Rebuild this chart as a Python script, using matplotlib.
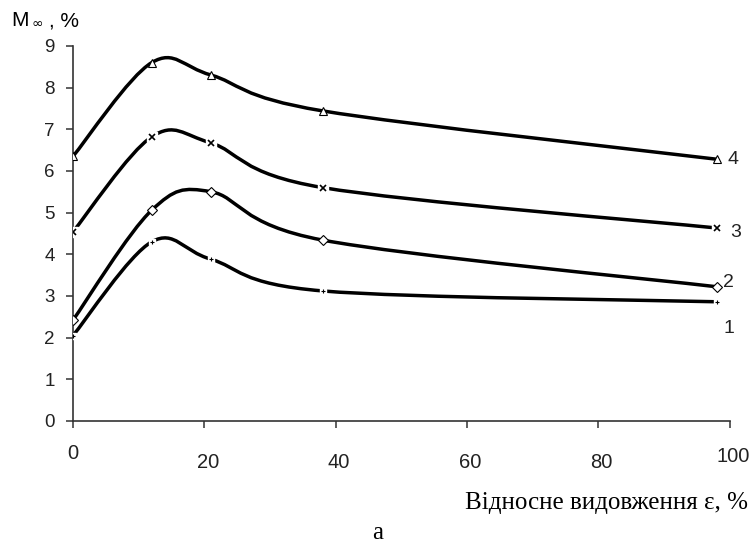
import matplotlib
matplotlib.use("Agg")
import matplotlib.pyplot as plt
import numpy as np
from matplotlib.path import Path
from matplotlib.patches import PathPatch
from matplotlib import font_manager

# data
strain = [0, 12, 21, 38, 98]
curve1 = [2.05, 4.30, 3.88, 3.12, 2.86]
curve2 = [2.42, 5.06, 5.50, 4.34, 3.22]
curve3 = [4.54, 6.82, 6.67, 5.60, 4.63]
curve4 = [6.35, 8.60, 8.30, 7.44, 6.28]
curve_names = ["1", "2", "3", "4"]
x_ticks = [0, 20, 40, 60, 80, 100]
y_ticks = [0, 1, 2, 3, 4, 5, 6, 7, 8, 9]

names = {f.name for f in font_manager.fontManager.ttflist}
narrow = "Liberation Sans Narrow" if "Liberation Sans Narrow" in names else "Liberation Sans"


def smooth_path(xs, ys):
    # excel-like smoothed line: bezier segments through the points
    p = np.column_stack([xs, ys]).astype(float)
    n = len(p)
    verts = [p[0]]
    codes = [Path.MOVETO]
    for i in range(n - 1):
        p0 = p[i - 1] if i > 0 else p[i]
        p3 = p[i + 2] if i + 2 < n else p[i + 1]
        c1 = p[i] + (p[i + 1] - p0) / 6
        c2 = p[i + 1] - (p3 - p[i]) / 6
        verts += [c1, c2, p[i + 1]]
        codes += [Path.CURVE4] * 3
    return Path(verts, codes)


fig = plt.figure(figsize=(7.55, 5.46), dpi=100)
ax = fig.add_axes([0.0967, 0.229, 0.87, 0.687])
ax.set_xlim(0, 100)
ax.set_ylim(0, 9)

series = [curve1, curve2, curve3, curve4]
for ys in series:
    ax.add_patch(PathPatch(smooth_path(strain, ys), fill=False, lw=2.5,
                           edgecolor="black", zorder=3, capstyle="round"))

# markers (white box behind to break the line like in the original)
ax.plot(strain, curve1, ls="none", marker="s", ms=5, mfc="white", mec="white", zorder=4)
ax.plot(strain, curve1, ls="none", marker="+", ms=3, mew=0.8, color="black", zorder=5)
ax.plot(strain, curve2, ls="none", marker="D", ms=5, mfc="white", mec="black", mew=0.8, zorder=5)
ax.plot(strain, curve3, ls="none", marker="s", ms=7, mfc="white", mec="white", zorder=4)
ax.plot(strain, curve3, ls="none", marker="x", ms=4, mew=1.2, color="black", zorder=5)
ax.plot(strain, curve4, ls="none", marker="^", ms=6, mfc="white", mec="black", mew=0.8, zorder=5)

# curve numbers
label_pos = [(99.0, 2.23), (99.0, 3.33), (100.0, 4.53), (99.7, 6.28)]
for name, (lx, ly) in zip(curve_names, label_pos):
    ax.text(lx, ly, name, fontsize=14, family="Liberation Sans",
            ha="left", va="center", color="#222222", clip_on=False)

for s in ["top", "right"]:
    ax.spines[s].set_visible(False)
for s in ["left", "bottom"]:
    ax.spines[s].set_color("#333333")
    ax.spines[s].set_linewidth(1.2)

ax.set_yticks(y_ticks)
ax.set_yticklabels([str(v) for v in y_ticks], fontsize=13.5, family="Liberation Sans", color="#222222")
ax.tick_params(axis="y", direction="out", length=5, width=1.1, color="#333333", pad=8)

# x tick labels are staggered in the original
ax.set_xticks(x_ticks)
ax.set_xticklabels([])
ax.tick_params(axis="x", direction="out", length=5, width=1.1, color="#333333")
label_y = [-0.088, -0.112, -0.112, -0.112, -0.112, -0.096]
for v, yy in zip(x_ticks, label_y):
    ax.text(v + (0.5 if v else 0), yy, str(v), transform=ax.get_xaxis_transform(),
            fontsize=14.5, family=narrow, ha="center", va="center", color="#222222")

fig.text(748 / 755, 1 - 503 / 546, "Відносне видовження ε, %", fontsize=18,
         family="Liberation Serif", ha="right", va="center")
fig.text(378 / 755, 1 - 533 / 546, "а", fontsize=18, family="Liberation Serif",
         ha="center", va="center")

fig.text(11 / 755, 1 - 21 / 546, "M", fontsize=15, family="Liberation Sans", ha="left", va="center")
fig.text(32 / 755, 1 - 24 / 546, "∞", fontsize=10, family="DejaVu Sans", ha="left", va="center")
fig.text(49 / 755, 1 - 21 / 546, ", %", fontsize=15, family="Liberation Sans", ha="left", va="center")

fig.savefig("out.png", dpi=100)
